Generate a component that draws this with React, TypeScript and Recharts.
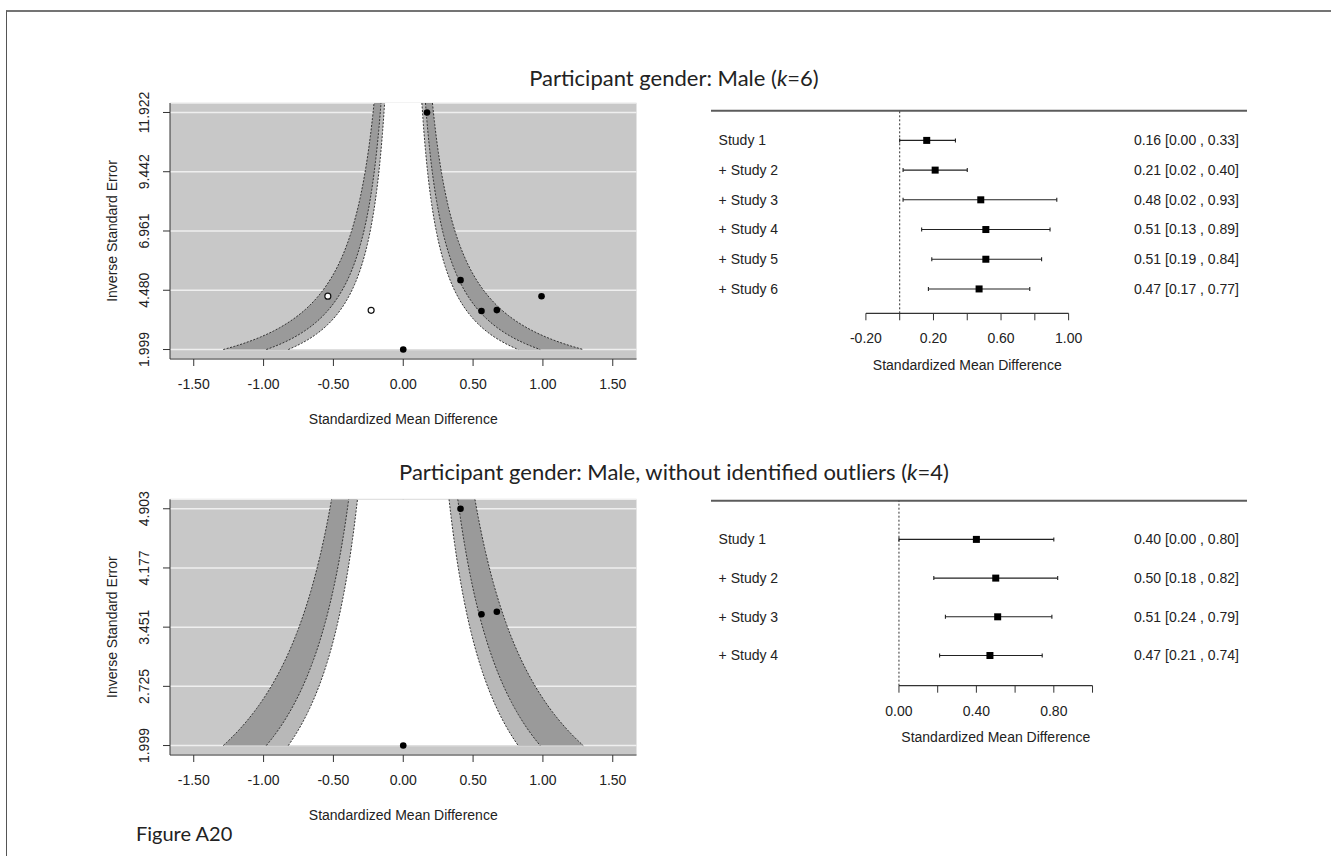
import React from 'react';
import {
  ScatterChart,
  ComposedChart,
  Scatter,
  XAxis,
  YAxis,
  CartesianGrid,
  ReferenceLine,
  ErrorBar,
} from 'recharts';

// ---- funnel plots (inverse SE vs SMD) ----
const MALE_SMD = [0.17, 0.41, 0.56, 0.67, 0.99, 0.0];
const MALE_SEINV = [11.922, 4.903, 3.61, 3.65, 4.23, 1.999];
const MALE_FILLED_SMD = [-0.54, -0.23];
const MALE_FILLED_SEINV = [4.23, 3.64];
const MALE_SEINV_TICKS = [1.999, 4.48, 6.961, 9.442, 11.922];
const MALE_SEINV_DOMAIN = [1.602, 12.319];

const NOOUT_SMD = [0.41, 0.56, 0.67, 0.0];
const NOOUT_SEINV = [4.903, 3.61, 3.64, 1.999];
const NOOUT_SEINV_TICKS = [1.999, 2.725, 3.451, 4.177, 4.903];
const NOOUT_SEINV_DOMAIN = [1.883, 5.019];

const SMD_TICKS = [-1.5, -1, -0.5, 0, 0.5, 1, 1.5];
const SMD_DOMAIN = [-1.67, 1.67];

// contour levels 99 / 95 / 90 % (outer first) and their fills
const Z_LEVELS = [2.576, 1.96, 1.645];
const BAND_FILLS = ['#9a9a9a', '#b8b8b8', '#ffffff'];
const BG = '#c8c8c8';

// ---- cumulative forest plots ----
const MALE_STUDIES = ['Study 1', '+ Study 2', '+ Study 3', '+ Study 4', '+ Study 5', '+ Study 6'];
const MALE_EST = [0.16, 0.21, 0.48, 0.51, 0.51, 0.47];
const MALE_LO = [0.0, 0.02, 0.02, 0.13, 0.19, 0.17];
const MALE_HI = [0.33, 0.4, 0.93, 0.89, 0.84, 0.77];
const MALE_X_TICKS = [-0.2, 0, 0.2, 0.4, 0.6, 0.8, 1.0];
const MALE_X_LABELS = ['-0.20', '', '0.20', '', '0.60', '', '1.00'];

const NOOUT_STUDIES = ['Study 1', '+ Study 2', '+ Study 3', '+ Study 4'];
const NOOUT_EST = [0.4, 0.5, 0.51, 0.47];
const NOOUT_LO = [0.0, 0.18, 0.24, 0.21];
const NOOUT_HI = [0.8, 0.82, 0.79, 0.74];
const NOOUT_X_TICKS = [0, 0.2, 0.4, 0.6, 0.8, 1.0];
const NOOUT_X_LABELS = ['0.00', '', '0.40', '', '0.80', ''];

const AXIS_FONT = '"Liberation Sans", Arial, sans-serif';
const TITLE_FONT = 'Lato, "Open Sans", sans-serif';
const INK = '#222';

const zip = (xs: number[], ys: number[]) => xs.map((x, i) => ({ x, y: ys[i] }));

// outline of the region |x| < z / seinv, left edge going up, right edge coming down
function contourOutline(z: number, yLo: number, yHi: number) {
  const steps = 80;
  const ys = Array.from({ length: steps + 1 }, (_, i) => yLo + ((yHi - yLo) * i) / steps);
  const leftEdge = ys.map((y) => ({ x: -z / y, y }));
  const rightEdge = ys
    .slice()
    .reverse()
    .map((y) => ({ x: z / y, y }));
  return [...leftEdge, ...rightEdge];
}

const toPath = (pts: { x: number; y: number }[]) =>
  pts.map((p, i) => `${i ? 'L' : 'M'}${p.x},${p.y}`).join('');

// draws the filled band plus dotted contour edges from the scatter's pixel points
const bandLine = (fill: string) => (props: any) => {
  const pts = props.points || [];
  const n = pts.length / 2;
  return (
    <g>
      <path d={toPath(pts) + 'Z'} fill={fill} stroke="none" />
      <path d={toPath(pts.slice(0, n))} fill="none" stroke="#333" strokeWidth={1} strokeDasharray="2 1.5" />
      <path d={toPath(pts.slice(n))} fill="none" stroke="#333" strokeWidth={1} strokeDasharray="2 1.5" />
    </g>
  );
};

const NoDot = () => <g />;

function RotTick(props: any) {
  const { x, y, payload } = props;
  return (
    <text
      x={x}
      y={y}
      transform={`rotate(-90 ${x} ${y})`}
      textAnchor="middle"
      fontSize={14}
      fill={INK}
      fontFamily={AXIS_FONT}
    >
      {Number(payload.value).toFixed(3)}
    </text>
  );
}

interface FunnelProps {
  left: number;
  top: number;
  marginTop: number;
  marginBottom: number;
  obs: { x: number; y: number }[];
  filled: { x: number; y: number }[];
  yTicks: number[];
  yDomain: number[];
}

function FunnelPlot({ left, top, marginTop, marginBottom, obs, filled, yTicks, yDomain }: FunnelProps) {
  return (
    <div style={{ position: 'absolute', left, top }}>
      <ScatterChart
        width={600}
        height={350}
        margin={{ top: marginTop, right: 23.5, bottom: marginBottom, left: 50 }}
        style={{ fontFamily: AXIS_FONT }}
      >
        <CartesianGrid vertical={false} fill={BG} fillOpacity={1} stroke="#efefef" strokeWidth={1.5} />
        <XAxis
          type="number"
          dataKey="x"
          domain={SMD_DOMAIN}
          ticks={SMD_TICKS}
          interval={0}
          allowDataOverflow
          tickFormatter={(v: number) => v.toFixed(2)}
          tickSize={7}
          tickMargin={13}
          height={70}
          stroke="#333"
          tick={{ fill: INK, fontSize: 14 }}
          label={{ value: 'Standardized Mean Difference', position: 'insideBottom', offset: 5, fill: INK, fontSize: 14 }}
        />
        <YAxis
          type="number"
          dataKey="y"
          domain={yDomain}
          ticks={yTicks}
          interval={0}
          allowDataOverflow
          width={60}
          tickSize={7}
          tickMargin={14}
          stroke="#333"
          tick={(p: any) => <RotTick {...p} />}
          label={{
            content: (p: any) => {
              const vb = p.viewBox || { x: 0, y: 0, width: 0, height: 0 };
              const cx = vb.x + 2;
              const cy = vb.y + vb.height / 2;
              return (
                <text
                  x={cx}
                  y={cy}
                  transform={`rotate(-90 ${cx} ${cy})`}
                  textAnchor="middle"
                  dominantBaseline="central"
                  fontSize={14}
                  fill={INK}
                  fontFamily={AXIS_FONT}
                >
                  Inverse Standard Error
                </text>
              );
            },
          }}
        />
        {Z_LEVELS.map((z, i) => (
          <Scatter
            key={z}
            data={contourOutline(z, yTicks[0], yDomain[1])}
            line={bandLine(BAND_FILLS[i])}
            shape={NoDot}
            isAnimationActive={false}
          />
        ))}
        <ReferenceLine
          segment={[
            { x: 0, y: yTicks[0] },
            { x: 0, y: yDomain[1] },
          ]}
          stroke="#444"
          strokeWidth={1.5}
        />
        {filled.length > 0 && (
          <Scatter
            data={filled}
            isAnimationActive={false}
            shape={(p: any) => <circle cx={p.cx} cy={p.cy} r={3} fill="#fff" stroke="#111" strokeWidth={1.2} />}
          />
        )}
        <Scatter
          data={obs}
          isAnimationActive={false}
          shape={(p: any) => <circle cx={p.cx} cy={p.cy} r={3.3} fill="#000" />}
        />
      </ScatterChart>
    </div>
  );
}

interface ForestProps {
  left: number;
  top: number;
  height: number;
  margin: { top: number; right: number; bottom: number; left: number };
  axisHeight: number;
  names: string[];
  est: number[];
  lo: number[];
  hi: number[];
  xDomain: number[];
  xTicks: number[];
  xLabels: string[];
  yMax: number;
}

function ForestPlot({ left, top, height, margin, axisHeight, names, est, lo, hi, xDomain, xTicks, xLabels, yMax }: ForestProps) {
  const rows = names.map((_, i) => i + 1);
  const data = names.map((_, i) => ({ x: est[i], y: i + 1, err: [est[i] - lo[i], hi[i] - est[i]] }));
  const summary = names.map((_, i) => `${est[i].toFixed(2)} [${lo[i].toFixed(2)} , ${hi[i].toFixed(2)}]`);
  const axisMid = (xTicks[0] + xTicks[xTicks.length - 1]) / 2;
  return (
    <div style={{ position: 'absolute', left, top }}>
      <ComposedChart width={600} height={height} margin={margin} style={{ fontFamily: AXIS_FONT }}>
        <XAxis
          type="number"
          dataKey="x"
          domain={xDomain}
          ticks={xTicks}
          interval={0}
          allowDataOverflow
          axisLine={false}
          tickSize={7}
          tickMargin={13}
          height={axisHeight}
          stroke="#333"
          tickFormatter={(_v: number, i: number) => xLabels[i]}
          tick={{ fill: INK, fontSize: 14 }}
          label={{
            content: (p: any) => {
              const vb = p.viewBox || { x: 0, y: 0, width: 0, height: 0 };
              const cx = vb.x + ((axisMid - xDomain[0]) / (xDomain[1] - xDomain[0])) * vb.width;
              return (
                <text x={cx} y={vb.y + vb.height - 5} textAnchor="middle" fontSize={14} fill={INK} fontFamily={AXIS_FONT}>
                  Standardized Mean Difference
                </text>
              );
            },
          }}
        />
        <YAxis
          yAxisId="left"
          type="number"
          dataKey="y"
          domain={[0, yMax]}
          reversed
          allowDataOverflow
          ticks={rows}
          interval={0}
          mirror
          width={300}
          axisLine={false}
          tickLine={false}
          tickSize={0}
          tickMargin={7.6}
          tickFormatter={(v: number) => names[v - 1]}
          tick={{ fill: INK, fontSize: 14 }}
        />
        <YAxis
          yAxisId="right"
          orientation="right"
          type="number"
          domain={[0, yMax]}
          reversed
          allowDataOverflow
          ticks={rows}
          interval={0}
          mirror
          width={300}
          axisLine={false}
          tickLine={false}
          tickSize={0}
          tickMargin={8}
          tickFormatter={(v: number) => summary[v - 1]}
          tick={{ fill: INK, fontSize: 14 }}
        />
        <ReferenceLine yAxisId="left" y={0} stroke="#5c5c5c" strokeWidth={2} />
        <ReferenceLine yAxisId="left" x={0} stroke="#333" strokeWidth={1} strokeDasharray="2 2" />
        <ReferenceLine
          yAxisId="left"
          segment={[
            { x: xTicks[0], y: yMax },
            { x: xTicks[xTicks.length - 1], y: yMax },
          ]}
          stroke="#333"
          strokeWidth={1.2}
        />
        <Scatter
          yAxisId="left"
          data={data}
          isAnimationActive={false}
          shape={(p: any) => <rect x={p.cx - 3.5} y={p.cy - 3.5} width={7} height={7} fill="#000" />}
        >
          <ErrorBar dataKey="err" direction="x" width={2} stroke="#222" strokeWidth={1.1} />
        </Scatter>
      </ComposedChart>
    </div>
  );
}

const titleStyle: React.CSSProperties = {
  position: 'absolute',
  left: 374,
  width: 600,
  textAlign: 'center',
  fontFamily: TITLE_FONT,
  fontSize: 22,
  lineHeight: '22px',
  color: INK,
  whiteSpace: 'nowrap',
};

export default function App() {
  return (
    <div style={{ position: 'absolute', left: 0, top: 0, width: 1331, height: 856, background: '#fff', overflow: 'hidden' }}>
      <div
        style={{
          position: 'absolute',
          left: 6,
          top: 10,
          width: 1330,
          height: 850,
          borderTop: '2px solid #747474',
          borderLeft: '1.5px solid #555',
        }}
      />
      <div style={{ ...titleStyle, top: 67 }}>
        Participant gender: Male (<i>k</i>=6)
      </div>
      <div style={{ ...titleStyle, top: 461 }}>
        Participant gender: Male, without identified outliers (<i>k</i>=4)
      </div>

      <FunnelPlot
        left={60}
        top={90}
        marginTop={13}
        marginBottom={11}
        obs={zip(MALE_SMD, MALE_SEINV)}
        filled={zip(MALE_FILLED_SMD, MALE_FILLED_SEINV)}
        yTicks={MALE_SEINV_TICKS}
        yDomain={MALE_SEINV_DOMAIN}
      />
      <ForestPlot
        left={680}
        top={90}
        height={300}
        margin={{ top: 20.7, right: 33, bottom: 14.7, left: 31 }}
        axisHeight={62}
        names={MALE_STUDIES}
        est={MALE_EST}
        lo={MALE_LO}
        hi={MALE_HI}
        xDomain={[-1.117, 2.056]}
        xTicks={MALE_X_TICKS}
        xLabels={MALE_X_LABELS}
        yMax={6.82}
      />

      <FunnelPlot
        left={60}
        top={480}
        marginTop={19.3}
        marginBottom={5}
        obs={zip(NOOUT_SMD, NOOUT_SEINV)}
        filled={[]}
        yTicks={NOOUT_SEINV_TICKS}
        yDomain={NOOUT_SEINV_DOMAIN}
      />
      <ForestPlot
        left={680}
        top={480}
        height={280}
        margin={{ top: 20.7, right: 33, bottom: 13.3, left: 31 }}
        axisHeight={61}
        names={NOOUT_STUDIES}
        est={NOOUT_EST}
        lo={NOOUT_LO}
        hi={NOOUT_HI}
        xDomain={[-0.971, 1.798]}
        xTicks={NOOUT_X_TICKS}
        xLabels={NOOUT_X_LABELS}
        yMax={4.78}
      />

      <div
        style={{
          position: 'absolute',
          left: 136,
          top: 823,
          fontFamily: TITLE_FONT,
          fontSize: 20,
          lineHeight: '20px',
          color: INK,
        }}
      >
        Figure A20
      </div>
    </div>
  );
}
